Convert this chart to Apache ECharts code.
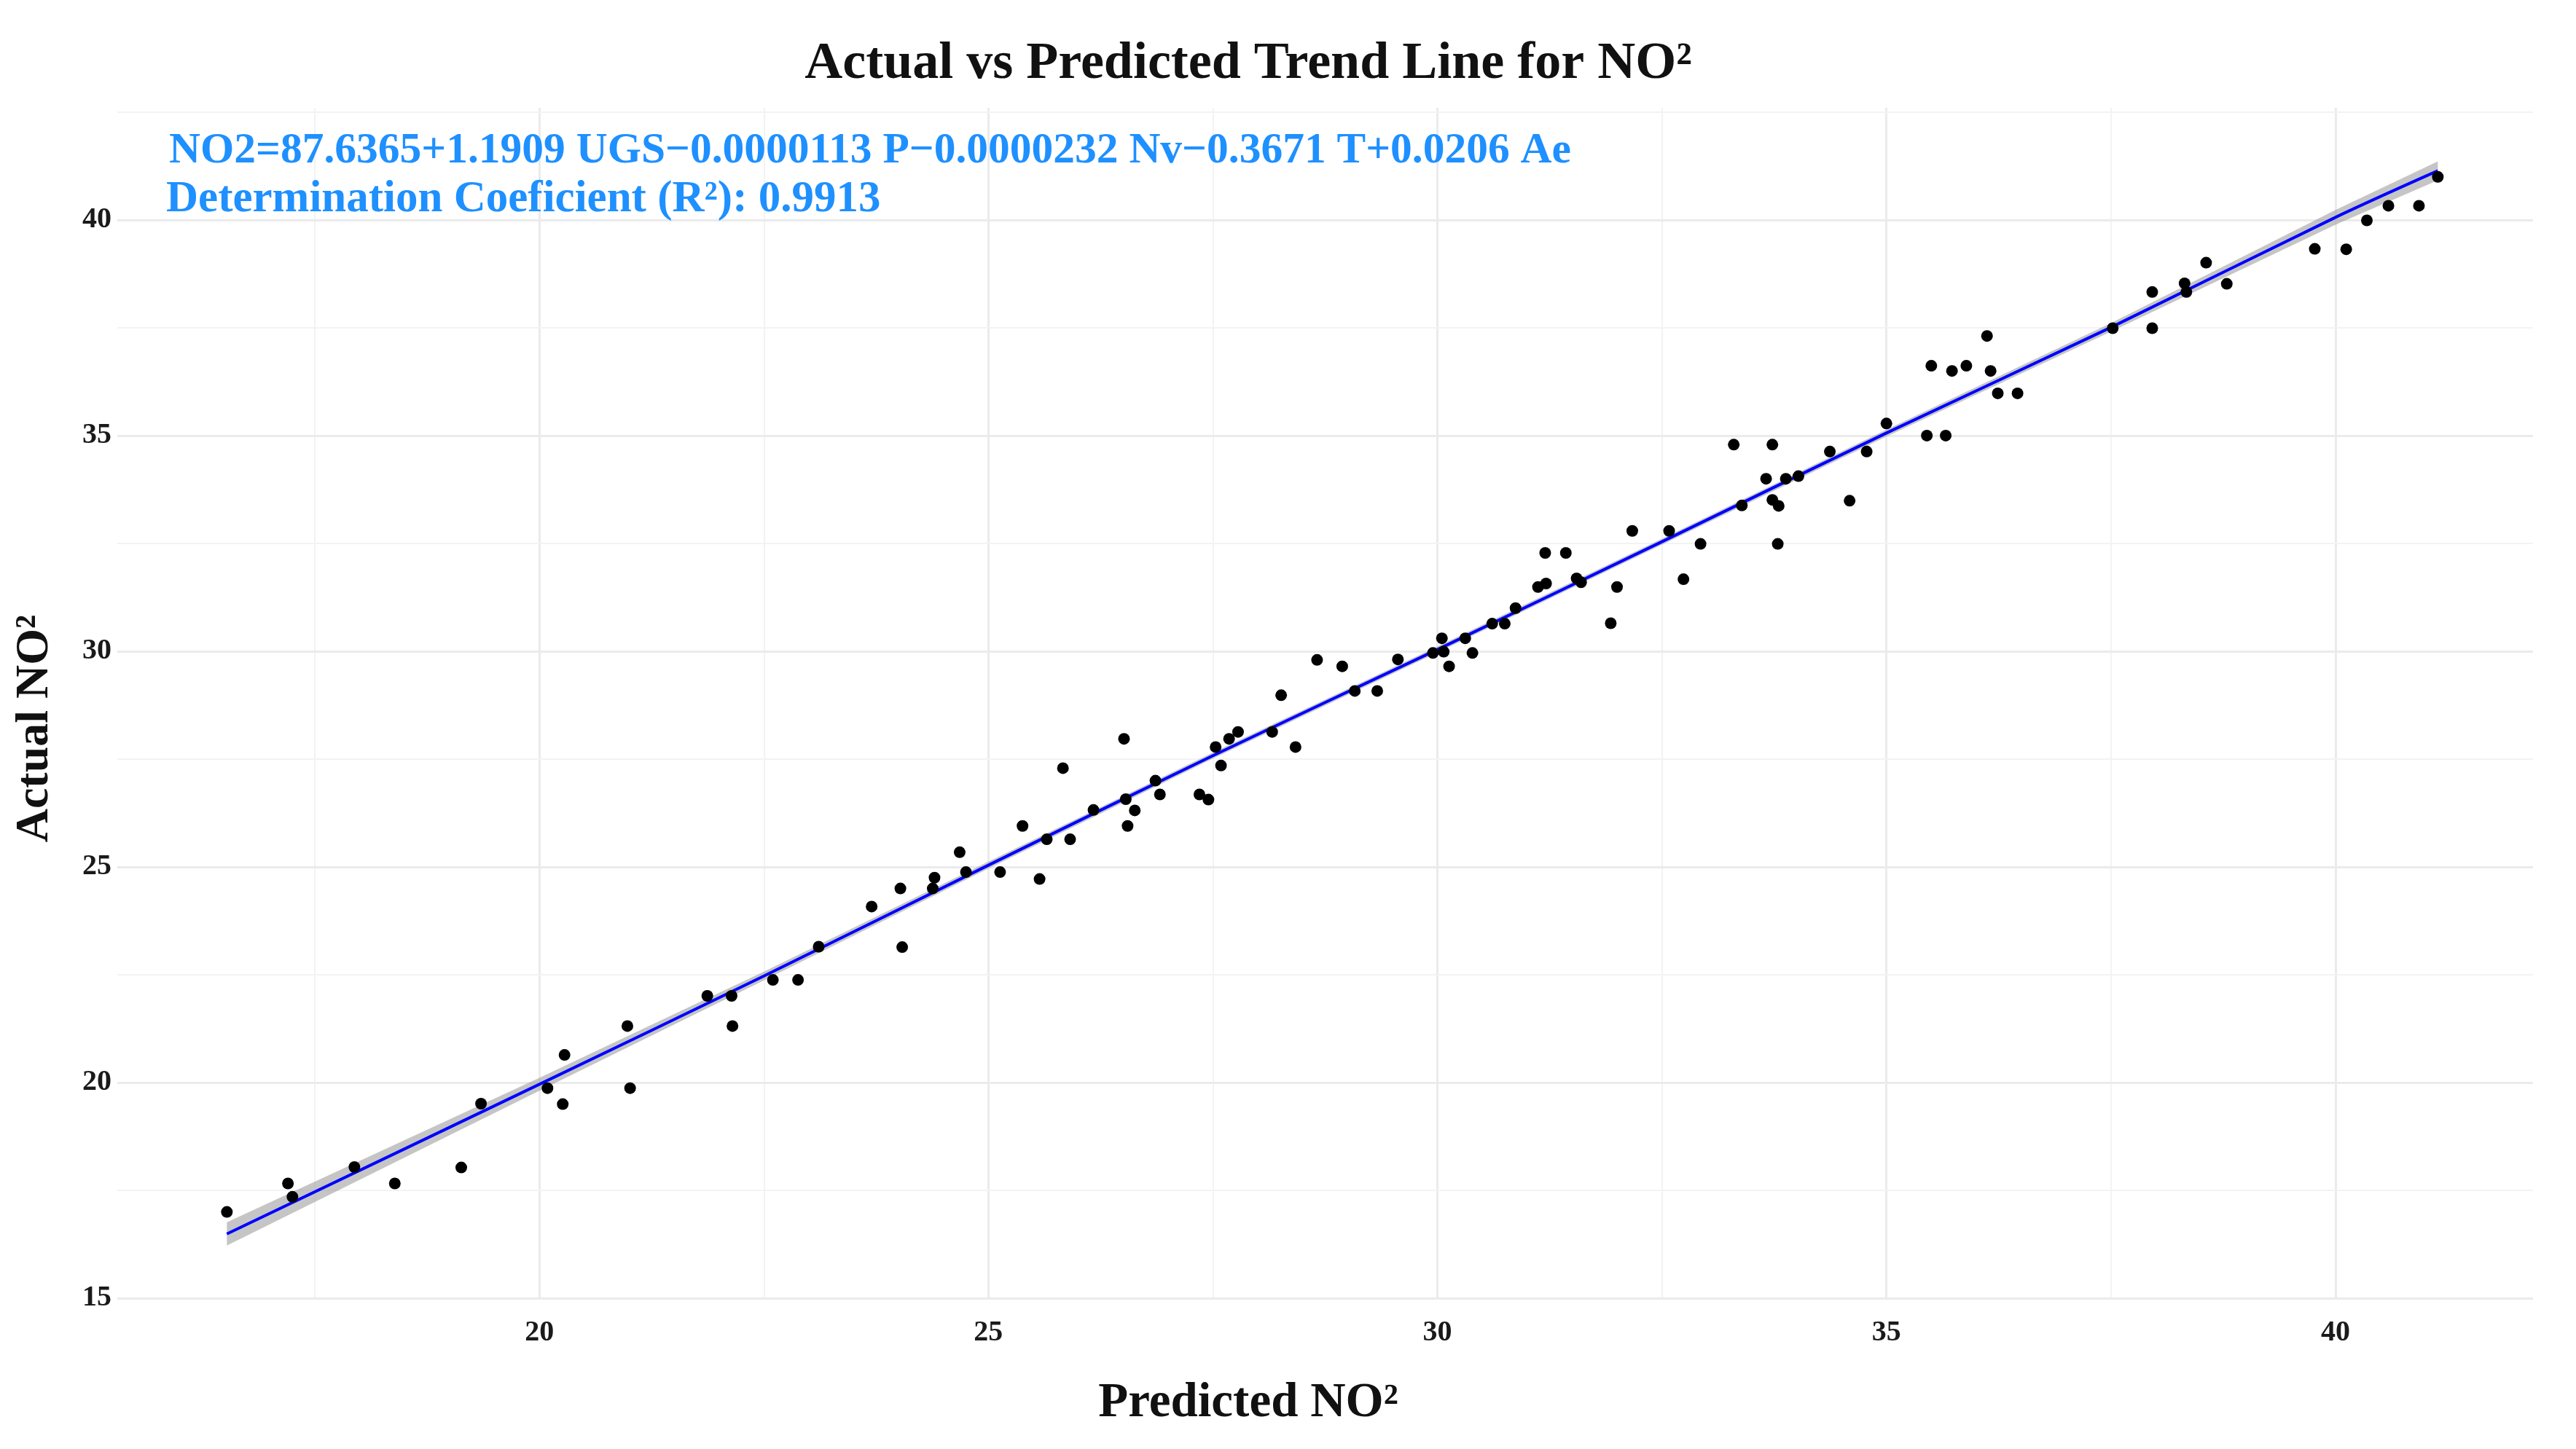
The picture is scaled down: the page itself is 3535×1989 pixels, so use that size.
<!DOCTYPE html>
<html><head><meta charset="utf-8">
<script src="https://cdn.jsdelivr.net/npm/echarts@6/dist/echarts.min.js"></script>
<style>html,body{margin:0;padding:0;background:#fff}#c{width:3535px;height:1989px}</style>
</head><body><div id="c"></div>
<script>
// Predicted (x) and actual (y) NO2 values
const predicted = [16.52,17.20,17.25,17.94,18.39,19.13,19.35,20.09,20.28,20.26,21.01,
  20.98,21.87,22.14,22.15,22.60,22.88,23.11,23.70,24.04,24.02,24.40,24.38,24.68,24.75,25.13,
  25.57,25.38,25.65,25.91,25.83,26.17,26.51,26.53,26.63,26.55,26.86,26.91,27.35,27.45,27.53,27.59,27.68,27.78,28.16,28.42,28.26,28.66,28.94,
  29.08,29.33,29.56,29.95,30.05,30.07,30.13,30.31,30.39,30.61,30.75,30.87,31.12,31.21,31.20,31.43,31.55,31.60,31.93,32.00,32.17,32.58,
  32.74,32.93,33.39,33.30,33.73,33.66,33.88,34.02,33.73,33.80,33.79,34.37,34.59,34.78,35.00,35.45,35.66,35.50,35.73,35.89,36.16,36.24,
  36.12,36.46,37.52,37.96,37.96,38.32,38.34,38.56,38.79,39.77,
  40.12,40.35,40.59,40.93,41.14];
const actual = [17.00,17.66,17.35,18.04,17.66,18.03,19.51,19.87,20.64,19.50,19.87,
  21.31,22.01,22.01,21.31,22.38,22.38,23.15,24.08,23.14,24.50,24.75,24.50,25.34,24.88,24.88,
  24.72,25.95,25.64,25.64,27.29,26.32,27.97,26.57,26.31,25.95,27.00,26.68,26.68,26.56,27.78,27.35,27.97,28.13,28.13,27.78,28.98,29.80,29.65,
  29.08,29.08,29.81,29.96,30.30,29.99,29.65,30.30,29.96,30.64,30.64,31.00,31.49,31.57,32.28,32.28,31.69,31.60,30.65,31.49,32.79,32.79,
  31.67,32.49,33.38,34.79,34.79,34.00,34.00,34.06,33.51,33.37,32.49,34.63,33.49,34.63,35.28,35.00,35.00,36.62,36.50,36.62,36.50,35.98,
  37.31,35.98,37.49,37.49,38.33,38.53,38.33,39.01,38.52,39.33,
  39.32,39.99,40.33,40.33,41.00];
// Fitted trend line and its confidence band half-width
const trendX = [16.52,20,22.5,25,27.5,30,32.5,35,37.5,40,41.14];
const trendY = [16.49,19.96,22.47,25.04,27.58,30.04,32.54,35.06,37.51,40.06,41.14];
const bandHalf = [0.27,0.15,0.10,0.08,0.07,0.07,0.07,0.08,0.10,0.17,0.22];
// Tick labels and grid lines
const xTicks = [20,25,30,35,40];
const yTicks = [15,20,25,30,35,40];
const xMinor = [17.5,22.5,27.5,32.5,37.5];
const yMinor = [17.5,22.5,27.5,32.5,37.5,42.5];

const titleText = 'Actual vs Predicted Trend Line for NO\u00B2';
const eqText = 'NO2=87.6365+1.1909 UGS\u22120.0000113 P\u22120.0000232 Nv\u22120.3671 T+0.0206 Ae';
const r2Text = 'Determination Coeficient (R\u00B2): 0.9913';
const xName = 'Predicted NO\u00B2';
const yName = 'Actual NO\u00B2';

const serif = '"Liberation Serif", "DejaVu Serif", serif';
const chart = echarts.init(document.getElementById('c'));

const gridLines = [];
xTicks.forEach(v => gridLines.push({xAxis: v, lineStyle: {color: '#ebebeb', width: 3, type: 'solid'}}));
xMinor.forEach(v => gridLines.push({xAxis: v, lineStyle: {color: '#f3f3f3', width: 2, type: 'solid'}}));
yTicks.forEach(v => gridLines.push({yAxis: v, lineStyle: {color: '#ebebeb', width: 3, type: 'solid'}}));
yMinor.forEach(v => gridLines.push({yAxis: v, lineStyle: {color: '#f3f3f3', width: 2, type: 'solid'}}));

chart.setOption({
  animation: false,
  backgroundColor: '#ffffff',
  grid: {left: 161, right: 59, top: 148, bottom: 207, containLabel: false},
  xAxis: {
    type: 'value', min: 15.3, max: 42.2,
    splitLine: {show: false}, axisLine: {show: false}, axisTick: {show: false},
    axisLabel: {customValues: xTicks, fontFamily: serif, fontWeight: 'bold', fontSize: 40, color: '#1a1a1a', margin: 28}
  },
  yAxis: {
    type: 'value', min: 15, max: 42.6,
    splitLine: {show: false}, axisLine: {show: false}, axisTick: {show: false},
    axisLabel: {customValues: yTicks, fontFamily: serif, fontWeight: 'bold', fontSize: 40, color: '#1a1a1a', margin: 8}
  },
  graphic: [
    {type: 'text', z: 100, x: 1713, y: 88, style: {text: titleText, font: 'bold 72px ' + serif, fill: '#111', textAlign: 'center', textVerticalAlign: 'middle'}},
    {type: 'text', z: 100, x: 232, y: 208, style: {text: eqText, font: 'bold 59.5px ' + serif, fill: '#1E90FF', textVerticalAlign: 'middle'}},
    {type: 'text', z: 100, x: 228, y: 274, style: {text: r2Text, font: 'bold 61px ' + serif, fill: '#1E90FF', textVerticalAlign: 'middle'}},
    {type: 'text', z: 100, x: 1713, y: 1927, style: {text: xName, font: 'bold 67px ' + serif, fill: '#111', textAlign: 'center', textVerticalAlign: 'middle'}},
    {type: 'text', z: 100, x: 48, y: 1000, rotation: Math.PI / 2, style: {text: yName, font: 'bold 64px ' + serif, fill: '#111', textAlign: 'center', textVerticalAlign: 'middle'}}
  ],
  series: [
    {type: 'line', data: [], z: 0, silent: true,
     markLine: {z: 0, silent: true, symbol: ['none','none'], label: {show: false}, animation: false, data: gridLines}},
    {type: 'custom', z: 1, silent: true, data: [[trendX[0], trendY[0]]],
     renderItem: function (params, api) {
       const pts = [];
       for (let i = 0; i < trendX.length; i++) pts.push(api.coord([trendX[i], trendY[i] + bandHalf[i]]));
       for (let i = trendX.length - 1; i >= 0; i--) pts.push(api.coord([trendX[i], trendY[i] - bandHalf[i]]));
       return {type: 'polygon', shape: {points: pts}, style: {fill: 'rgba(150,150,150,0.55)'}};
     }},
    {type: 'line', z: 2, data: trendX.map((x, i) => [x, trendY[i]]), smooth: 0.3, symbol: 'none',
     lineStyle: {color: '#0000ff', width: 4}},
    {type: 'scatter', z: 3, data: predicted.map((x, i) => [x, actual[i]]), symbolSize: 16,
     itemStyle: {color: '#000000', opacity: 1}}
  ]
});
</script></body></html>
